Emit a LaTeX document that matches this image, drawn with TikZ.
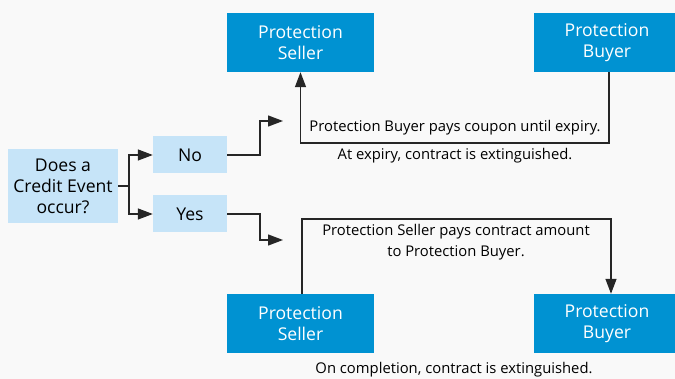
\documentclass[tikz,border=0pt]{standalone}
\usepackage{fontspec}
\setmainfont{Open Sans}
\usetikzlibrary{arrows.meta}
\definecolor{bg}{RGB}{249,249,249}
\definecolor{dark}{RGB}{0,146,210}
\definecolor{light}{RGB}{198,228,248}
\begin{document}
\begin{tikzpicture}[x=1pt,y=-1pt,
  darkbox/.style={fill=dark,text=white,minimum width=147pt,minimum height=59pt,align=center,inner sep=0pt,font=\fontsize{17.6}{21}\selectfont},
  lightbox/.style={fill=light,text=black,align=center,inner sep=0pt,font=\fontsize{17.6}{21}\selectfont},
  conn/.style={line width=1.3pt,draw=black!85},
  arr/.style={conn,-{Triangle[length=15pt,width=11pt]}},
  lbl/.style={font=\fontsize{14.8}{21}\selectfont,align=center,inner sep=0pt}]
\clip (0,0) rectangle (675,379);
\fill[bg] (0,0) rectangle (675,379);
\node[lightbox,minimum width=110pt,minimum height=74pt] (q) at (63,186) {Does a\\Credit Event\\occur?};
\node[lightbox,minimum width=74pt,minimum height=37pt] (no) at (190,155) {No};
\node[lightbox,minimum width=74pt,minimum height=37pt] (yes) at (190,214) {Yes};
\node[darkbox] (ts) at (300.5,42.5) {Protection\\Seller};
\node[darkbox] (tb) at (607,42.5) {Protection\\Buyer};
\node[darkbox] (bs) at (300.5,323.5) {Protection\\Seller};
\node[darkbox] (bb) at (607,323.5) {Protection\\Buyer};
\coordinate (j) at (129,186);
\coordinate (noend) at (283,121);
\coordinate (yesend) at (283,240);
\draw[conn] (q.east) -- (j);
\draw[arr] (j) |- (no.west);
\draw[arr] (j) |- (yes.west);
\draw[arr] (no.east) -- (260,155) |- (noend);
\draw[arr] (yes.east) -- (260,214) |- (yesend);
\draw[arr] (tb.south -| 609,0) -- (609,143) -- (300.5,143) -- (ts.south);
\draw[arr] (bs.north -| 302,0) -- (302,219) -- (611,219) -- (bb.north -| 611,0);
\node[lbl] (l1) at (455,128) {Protection Buyer pays coupon until expiry.};
\node[lbl] (l2) at (455,156) {At expiry, contract is extinguished.};
\node[lbl] (l3) at (456,242.5) {Protection Seller pays contract amount\\to Protection Buyer.};
\node[lbl] (l4) at (454,370) {On completion, contract is extinguished.};
\end{tikzpicture}
\end{document}
